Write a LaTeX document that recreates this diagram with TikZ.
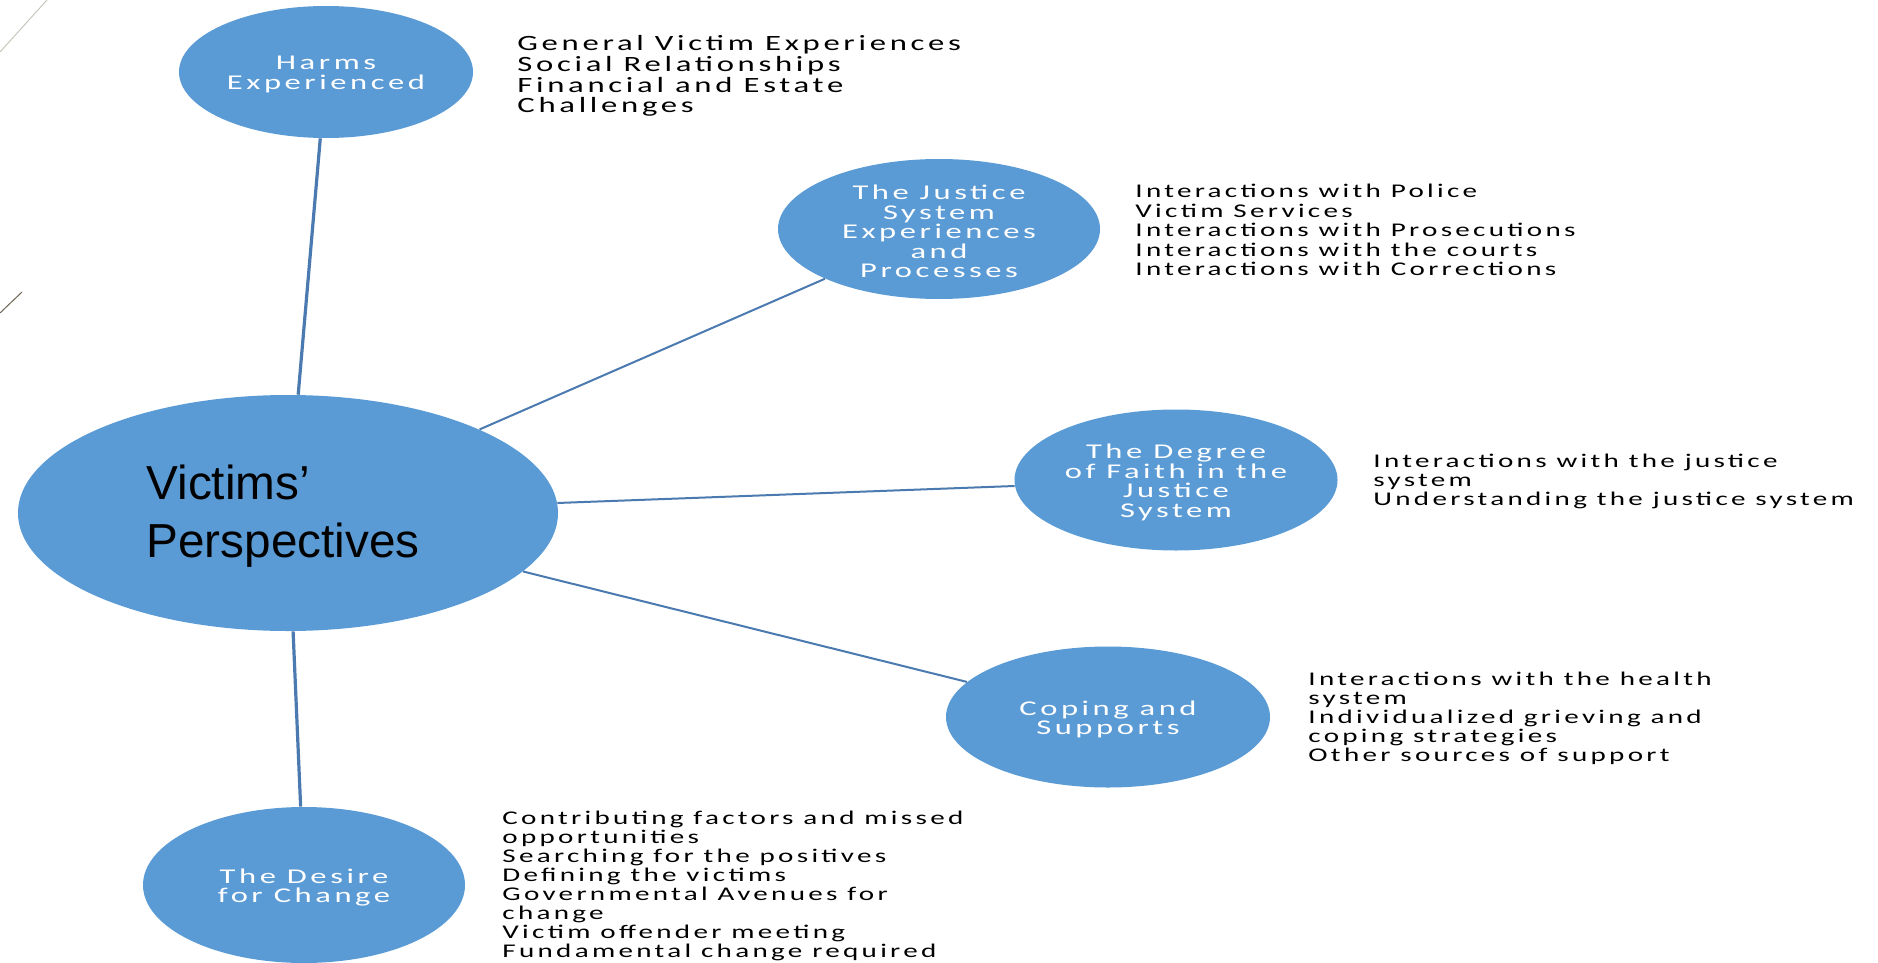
\documentclass[tikz,border=0pt]{standalone}
\usepackage{fontspec}
\setmainfont{Carlito}
\newfontfamily\wide[FakeStretch=1.55,LetterSpace=17]{Carlito}
\newfontfamily\widel[FakeStretch=1.5,LetterSpace=17]{Carlito}
\newfontfamily\arialf{Liberation Sans}
\usetikzlibrary{shapes.geometric}
\setlength{\lineskiplimit}{-20pt}
\definecolor{bubble}{HTML}{5B9BD5}
\definecolor{conn}{HTML}{4A7AB0}
\tikzset{
  bub/.style={ellipse, fill=bubble, draw=none, inner sep=0pt},
  btxt/.style={text=white, font=\wide\fontsize{10.5}{9.75}\selectfont, align=center, inner sep=0pt, yshift=-1.2pt},
  lst/.style={anchor=west, text=black, font=\widel\fontsize{9.7}{9.5}\selectfont, align=left, inner sep=0pt},
  connthick/.style={draw=conn, line width=1.6pt},
  connthin/.style={draw=conn, line width=1pt},
  decor/.style={line width=0.5pt},
}
\begin{document}
\begin{tikzpicture}[x=0.5pt, y=-0.5pt]
\useasboundingbox (0,0) rectangle (1878,963);
% slide decoration
\coordinate (d1a) at (0,52); \coordinate (d1b) at (47,0);
\coordinate (d2a) at (0,313); \coordinate (d2b) at (22,292);
\draw[decor, draw={rgb,255:red,200;green,198;blue,188}] (d1a) -- (d1b);
\draw[decor, draw={rgb,255:red,110;green,100;blue,85}] (d2a) -- (d2b);

% bubbles
\node[bub, minimum width=270pt, minimum height=118pt] (victims) at (288,513) {};
\node[bub, minimum width=147pt, minimum height=66pt] (harms) at (326,72) {};
\node[bub, minimum width=161pt, minimum height=70pt] (justice) at (939,229) {};
\node[bub, minimum width=161.5pt, minimum height=70.5pt] (faith) at (1176,480) {};
\node[bub, minimum width=162pt, minimum height=70.5pt] (coping) at (1108,717) {};
\node[bub, minimum width=161pt, minimum height=78pt] (desire) at (304,885) {};

% bubble labels
\node[align=left, inner sep=0pt, font=\arialf\fontsize{23.85}{29}\selectfont]
  (victimsT) at (283,516) {Victims’\\Perspectives};
\node[btxt] (harmsT) at (harms.center) {Harms\\Experienced};
\node[btxt] (justiceT) at (justice.center) {The Justice\\System\\Experiences\\and\\Processes};
\node[btxt] (faithT) at (faith.center) {The Degree\\of Faith in the\\Justice\\System};
\node[btxt] (copingT) at (coping.center) {Coping and\\Supports};
\node[btxt] (desireT) at (desire.center) {The Desire\\for Change};

% connectors
\draw[connthick] (victims) -- (harms);
\draw[connthin] (victims) -- (justice);
\draw[connthin] (victims) -- (faith);
\draw[connthin] (victims) -- (coping);
\draw[connthick] (victims) -- (desire);

% lists
\node[lst, font=\widel\fontsize{10.9}{10.35}\selectfont] (harmsL) at (517,76)
  {General Victim Experiences\\Social Relationships\\Financial and Estate\\Challenges};
\node[lst, font=\widel\fontsize{9.7}{9.75}\selectfont] (justiceL) at (1135,230)
  {Interactions with Police\\Victim Services\\Interactions with Prosecutions\\Interactions with the courts\\Interactions with Corrections};
\node[lst] (faithL) at (1373,481)
  {Interactions with the justice\\system\\Understanding the justice system};
\node[lst] (copingL) at (1308,718)
  {Interactions with the health\\system\\Individualized grieving and\\coping strategies\\Other sources of support};
\node[lst] (desireL) at (502,886)
  {Contributing factors and missed\\opportunities\\Searching for the positives\\Defining the victims\\Governmental Avenues for\\change\\Victim offender meeting\\Fundamental change required};
\end{tikzpicture}
\end{document}
